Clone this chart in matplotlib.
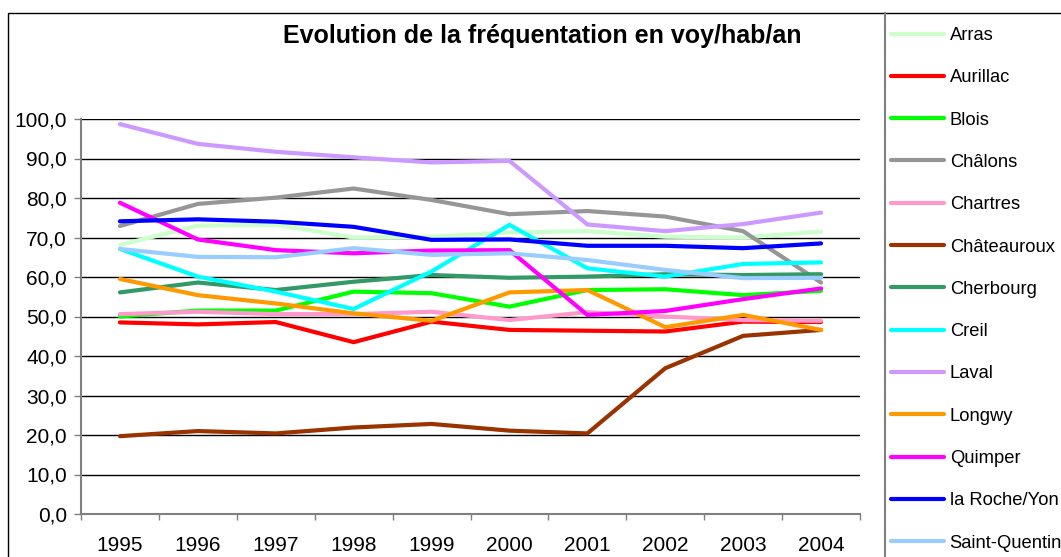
import matplotlib
matplotlib.use('Agg')
import matplotlib.pyplot as plt
from matplotlib.ticker import FuncFormatter
from matplotlib.lines import Line2D
from matplotlib.patches import Rectangle
import numpy as np

plt.rcParams['font.family'] = ['Liberation Sans', 'DejaVu Sans']

years = ['1995', '1996', '1997', '1998', '1999', '2000', '2001', '2002', '2003', '2004']

cities = ['Arras', 'Aurillac', 'Blois', 'Châlons', 'Chartres', 'Châteauroux',
          'Cherbourg', 'Creil', 'Laval', 'Longwy', 'Quimper', 'la Roche/Yon',
          'Saint-Quentin']

arras = [68.1, 73.0, 73.2, 70.0, 70.2, 71.3, 71.6, 70.2, 70.0, 71.5]
aurillac = [48.5, 48.0, 48.6, 43.5, 48.7, 46.6, 46.4, 46.2, 48.7, 48.6]
blois = [50.0, 51.5, 51.5, 56.3, 55.9, 52.5, 56.7, 56.9, 55.4, 56.5]
chalons = [72.9, 78.5, 80.1, 82.4, 79.5, 75.9, 76.7, 75.3, 71.6, 58.6]
chartres = [50.6, 51.2, 50.6, 50.6, 51.2, 49.1, 51.1, 50.0, 49.1, 48.9]
chateauroux = [19.7, 21.0, 20.4, 21.9, 22.8, 21.1, 20.4, 36.9, 45.1, 46.6]
cherbourg = [56.1, 58.6, 56.7, 58.8, 60.5, 59.8, 60.1, 60.7, 60.5, 60.7]
creil = [67.1, 60.1, 56.3, 51.9, 61.4, 73.2, 62.2, 60.1, 63.3, 63.7]
laval = [98.7, 93.7, 91.7, 90.3, 89.0, 89.4, 73.3, 71.6, 73.4, 76.3]
longwy = [59.5, 55.4, 53.3, 50.8, 48.9, 56.1, 56.7, 47.3, 50.4, 46.6]
quimper = [78.8, 69.5, 66.8, 66.0, 66.7, 66.8, 50.4, 51.4, 54.4, 57.1]
roche_yon = [74.1, 74.6, 74.0, 72.7, 69.4, 69.5, 67.9, 67.9, 67.3, 68.5]
saint_quentin = [67.1, 65.1, 65.0, 67.3, 65.6, 66.0, 64.3, 61.8, 59.7, 59.8]

series = [arras, aurillac, blois, chalons, chartres, chateauroux, cherbourg,
          creil, laval, longwy, quimper, roche_yon, saint_quentin]
colors = ['#CCFFCC', '#FF0000', '#00FF00', '#969696', '#FF99CC', '#993300',
          '#339966', '#00FFFF', '#CC99FF', '#FF9900', '#FF00FF', '#0000FF',
          '#99CCFF']

W, H = 1061, 557
fig = plt.figure(figsize=(W / 100, H / 100), dpi=100)

# outer chart border (cropped at right and bottom)
fig.patches.append(Rectangle((8 / W, -0.1), 1.2, 1 - 13 / H + 0.1,
                             transform=fig.transFigure, fill=False,
                             edgecolor='black', linewidth=1))

ax = fig.add_axes([81 / W, (H - 514) / H, (860 - 81) / W, (514 - 119) / H])
x = np.arange(len(years))
for vals, col in zip(series, colors):
    ax.plot(x, vals, color=col, linewidth=3, solid_capstyle='round',
            solid_joinstyle='miter')

ax.set_xlim(-0.5, len(years) - 0.5)
ax.set_ylim(0, 100)
ax.set_yticks(np.arange(0, 101, 10))
ax.yaxis.set_major_formatter(FuncFormatter(lambda v, p: f'{v:.1f}'.replace('.', ',')))
ax.set_xticks(x)
ax.set_xticklabels(years)
ax.set_xticks(np.arange(-0.5, len(years), 1), minor=True)
ax.tick_params(axis='x', which='major', length=0, pad=16, labelsize=15)
ax.tick_params(axis='x', which='minor', length=4, color='#808080', width=1)
ax.tick_params(axis='y', length=5, color='#808080', width=1, labelsize=15, pad=5)
ax.grid(axis='y', color='black', linewidth=1)
ax.set_axisbelow(True)
for side in ['top', 'right']:
    ax.spines[side].set_visible(False)
for side in ['left', 'bottom']:
    ax.spines[side].set_color('#808080')
    ax.spines[side].set_linewidth(1.5)

fig.text(542 / W, 1 - 36 / H, 'Evolution de la fréquentation en voy/hab/an',
         ha='center', va='center', fontsize=18, fontweight='bold')

# legend box left edge
fig.add_artist(Line2D([885 / W, 885 / W], [0, 1 - 13 / H],
                      transform=fig.transFigure, color='#808080', linewidth=1.5))

handles = [Line2D([], [], color=c, linewidth=3, solid_capstyle='round') for c in colors]
fig.legend(handles, cities, loc='upper left',
           bbox_to_anchor=(891 / W, 1 - 27 / H), frameon=False,
           fontsize=13.2, handlelength=2.9, handletextpad=0.3,
           labelspacing=1.38, borderpad=0, borderaxespad=0)

fig.savefig('out.png', dpi=100)
